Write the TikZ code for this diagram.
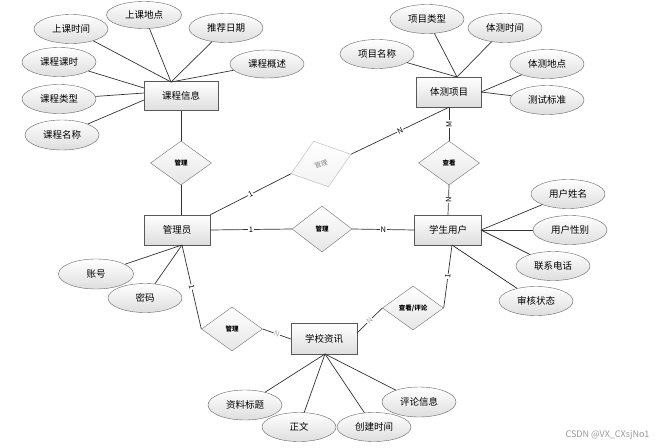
\documentclass[tikz,border=0pt]{standalone}
\usepackage{fontspec}
\setmainfont{Noto Sans CJK SC}
\usetikzlibrary{shapes.geometric}
\begin{document}
\begin{tikzpicture}[x=1pt,y=-1pt,
 ent/.style={draw=black!65, top color=white, bottom color=black!13, minimum width=66, minimum height=30, inner sep=0, font=\fontsize{9.5}{11}\selectfont},
 attr/.style={ellipse, draw=black!60, top color=white, bottom color=black!13, minimum width=74, minimum height=29, inner sep=0, font=\fontsize{9.5}{11}\selectfont},
 rel/.style={diamond, draw=black!55, top color=white, bottom color=black!10, minimum width=61, minimum height=44, inner sep=0, font=\fontsize{6.5}{7}\selectfont\bfseries},
 ln/.style={draw=black!80, line width=0.7},
 lbl/.style={fill=white, inner sep=0.6, font=\fontsize{7.5}{8}\selectfont},
]
\fill[white] (0,0) rectangle (661,447);
\useasboundingbox (0,0) rectangle (661,447);

% connection points
\coordinate (kcT) at (171,82);
\coordinate (kcL1) at (144,88);
\coordinate (kcL2) at (144,93);
\coordinate (kcL3) at (144,100);
\coordinate (tcT) at (457,77);
\coordinate (tcR) at (481,92);
\coordinate (xsR) at (481,230);
\coordinate (xsB) at (452,245);
\coordinate (glyT) at (181,215);
\coordinate (glyB) at (182,245);
\coordinate (xxB) at (325,354);
\coordinate (xxR) at (357,333);

% entities
\node[ent, minimum width=74, minimum height=29] (kc) at (181,96) {课程信息};
\node[ent, minimum width=65] (tc) at (449,92) {体测项目};
\node[ent] (gly) at (177,230) {管理员};
\node[ent, minimum width=67] (xs) at (448,230) {学生用户};
\node[ent, minimum height=31] (xx) at (324,339) {学校资讯};

% relationships
\node[rel] (r1) at (181,163) {管理};
\node[rel, rotate=18, draw=black!28, text=black!50, top color=white, bottom color=black!5, minimum width=63, minimum height=48, font=\fontsize{6.5}{7}\selectfont] (r2) at (321,164) {管理};
\node[rel] (r3) at (449,163) {查看};
\node[rel, minimum width=60, minimum height=46] (r4) at (322,229) {管理};
\node[rel] (r5) at (232,329) {管理};
\node[rel] (r6) at (413,308) {查看/评论};

% attributes
\node[attr] (a1) at (71,29) {上课时间};
\node[attr, minimum width=75, minimum height=27] (a2) at (144,15) {上课地点};
\node[attr] (a3) at (226,28) {推荐日期};
\node[attr, minimum height=28] (a4) at (267,64) {课程概述};
\node[attr] (a5) at (59,62) {课程课时};
\node[attr] (a6) at (59,99) {课程类型};
\node[attr, minimum height=30] (a7) at (62,135) {课程名称};

\node[attr] (b1) at (377,54) {项目名称};
\node[attr] (b2) at (427,19) {项目类型};
\node[attr] (b3) at (505,28) {体测时间};
\node[attr] (b4) at (547,64) {体测地点};
\node[attr] (b5) at (547,100) {测试标准};

\node[attr] (c1) at (568,194) {用户姓名};
\node[attr] (c2) at (570,230) {用户性别};
\node[attr] (c3) at (553,266) {联系电话};
\node[attr] (c4) at (536,301) {审核状态};

\node[attr, minimum width=75, minimum height=30] (d1) at (96,274) {账号};
\node[attr] (d2) at (145,298) {密码};

\node[attr, minimum height=30] (e1) at (245,405) {资料标题};
\node[attr] (e2) at (299,427) {正文};
\node[attr] (e3) at (374,427) {创建时间};
\node[attr, minimum height=30] (e4) at (419,402) {评论信息};

% attribute lines
\foreach \a in {a1,a2,a3,a4} \draw[ln] (\a) -- (kcT);
\draw[ln] (a5) -- (kcL1);
\draw[ln] (a6) -- (kcL2);
\draw[ln] (a7) -- (kcL3);
\foreach \a in {b1,b2,b3} \draw[ln] (\a) -- (tcT);
\foreach \a in {b4,b5} \draw[ln] (\a) -- (tcR);
\foreach \a in {c1,c2,c3} \draw[ln] (\a) -- (xsR);
\draw[ln] (c4) -- (xsB);
\foreach \a in {d1,d2} \draw[ln] (\a) -- (glyB);
\foreach \a in {e1,e2,e3,e4} \draw[ln] (\a) -- (xxB);

% relationship lines
\draw[ln] (kc.south) -- (r1.north);
\draw[ln] (r1.south) -- (glyT);
\draw[ln] (gly.north east) -- (r2.west) node[lbl, pos=.5, sloped]{1};
\draw[ln] (r2.east) -- (tc.south) node[lbl, pos=.5, sloped]{N};
\draw[ln] (gly.east) -- (r4.west) node[lbl, midway]{1};
\draw[ln] (r4.east) -- (xs.west) node[lbl, midway]{N};
\draw[ln] (tc.south) -- (r3.north) node[lbl, midway, rotate=90]{M};
\draw[ln] (r3.south) -- (xs.north) node[lbl, midway, rotate=90]{N};
\draw[ln] (xsB) -- (r6.east) node[lbl, midway, sloped]{1};
\draw[ln] (r6.west) -- (xxR) node[lbl, midway, sloped, text=black!35]{N};
\draw[ln] (glyB) -- (r5.west) node[lbl, midway, sloped]{1};
\draw[ln] (r5.east) -- (xx.west) node[lbl, midway, sloped, text=black!35]{N};

\node[font=\fontsize{9}{10}\selectfont, text=black!40, anchor=east] (wm) at (653,435) {CSDN @VX\_CXsjNo1};
\end{tikzpicture}
\end{document}
